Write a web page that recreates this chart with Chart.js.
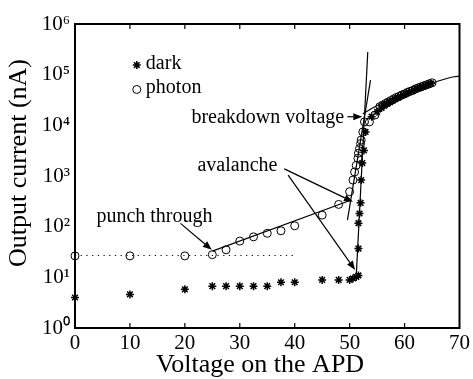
<!DOCTYPE html>
<html>
<head>
<meta charset="utf-8">
<script src="https://cdn.jsdelivr.net/npm/chart.js@4.4.1/dist/chart.umd.min.js"></script>
<style>
html,body{margin:0;padding:0;background:#fff;}
#wrap{width:473px;height:379px;position:relative;}
</style>
</head>
<body>
<div id="wrap"><canvas id="c" width="473" height="379"></canvas></div>
<script>
// ---- data ----
const xTicks = [0, 10, 20, 30, 40, 50, 60, 70];
const yTickExps = [0, 1, 2, 3, 4, 5, 6];
const supDigits = ['⁰','¹','²','³','⁴','⁵','⁶'];

const darkVolt = [0, 10, 20, 25, 27.5, 30, 32.5, 35, 37.5, 40, 45, 48, 50, 50.6, 51.2, 51.6, 51.6, 51.6, 51.8, 52.0, 52.1, 52.3, 52.6, 52.9, 54.0, 55.0,
  55.8, 56.3, 56.8, 57.3, 57.8, 58.3, 58.8, 59.3, 59.8, 60.3, 60.8, 61.3, 61.8, 62.3, 62.8, 63.3, 63.8, 64.3, 64.8];
const darkCur = [4.0, 4.6, 5.8, 6.7, 6.7, 6.7, 6.7, 6.7, 8.0, 8.0, 8.9, 8.9, 8.9, 9.5, 10.2, 10.9, 37, 117, 182, 295, 830, 1800, 3200, 7400, 14800, 18500,
  22000, 24500, 26500, 28500, 30500, 33000, 35500, 37500, 40000, 42500, 45000, 47500, 50000, 53000, 55500, 58500, 61000, 64000, 67000];

const photonVolt = [0, 10, 20, 25, 27.5, 30, 32.5, 35, 37.5, 40, 45, 48, 50, 50.6, 50.9, 51.2, 51.5, 51.6, 51.8, 52.0, 52.1, 52.4, 52.7, 53.6, 54.6,
  55.5, 56, 56.5, 57, 57.5, 58, 58.5, 59, 59.5, 60, 60.5, 61, 61.5, 62, 62.5, 63, 63.5, 64, 64.5, 65];
const photonCur = [26.5, 26.5, 26.5, 28, 35, 52, 63, 74, 83, 104, 169, 275, 490, 830, 1200, 1620, 2240, 2820, 3470, 4370, 5130, 7400, 11700, 11700, 16000,
  23400, 25100, 26900, 28800, 30900, 33100, 35500, 37200, 39800, 41700, 44700, 46800, 49000, 52500, 55000, 57500, 60300, 63100, 66100, 69200];

// fitted / guide lines
const punchVolt = [25, 50.2];
const punchCur = [33, 333];
const photonAvVolt = [49.6, 53.8];
const photonAvCur = [135, 78000];
const darkAvVolt = [51.2, 53.3];
const darkAvCur = [10.5, 280000];
const satVolt = [52.4, 54, 56, 58, 60, 62, 64, 66, 68, 69, 70];
const satCur = [17000, 21400, 28000, 35500, 43500, 52500, 62000, 74000, 86000, 91000, 93000];
const dotVolt = [0, 40];
const dotCur = [27, 27];

// annotations (data coordinates)
const annText = ['punch through', 'avalanche', 'breakdown voltage'];
const annTextX = [3.9, 22.3, 21.2];
const annTextY = [125, 1230, 10900];
const arrowFromX = [19.2, 38.1, 38.8, 49.6];
const arrowFromY = [116, 1380, 1040, 14800];
const arrowToX = [24.9, 50.6, 51.0, 52.3];
const arrowToY = [35, 310, 14, 14800];

const legendLabels = ['dark', 'photon'];
const legendX = 11.25;
const legendY = [155000, 51000];
const legendTextX = 12.9;
const legendTextY = [132000, 43700];

const FONT = '"Liberation Serif", "Times New Roman", serif';

function pts(xs, ys){ return xs.map((x,i)=>({x:x, y:ys[i]})); }

const lineDs = (xs, ys, extra) => Object.assign({
  data: pts(xs, ys), showLine: true, pointRadius: 0, borderColor: '#000', borderWidth: 1.2,
  backgroundColor: 'transparent', fill: false, tension: 0
}, extra || {});

const decor = {
  id: 'decor',
  afterDatasetsDraw(chart){
    const ctx = chart.ctx, xs = chart.scales.x, ys = chart.scales.y, a = chart.chartArea;
    ctx.save();
    // frame
    ctx.strokeStyle = '#000';
    ctx.lineWidth = 2;
    ctx.strokeRect(a.left, a.top, a.right - a.left, a.bottom - a.top);
    // inward ticks on x
    ctx.lineWidth = 1.2;
    xTicks.forEach(v => {
      const px = xs.getPixelForValue(v);
      if (px <= a.left + 1 || px >= a.right - 1) return;
      ctx.beginPath();
      ctx.moveTo(px, a.top); ctx.lineTo(px, a.top + 5);
      ctx.moveTo(px, a.bottom); ctx.lineTo(px, a.bottom - 5);
      ctx.stroke();
    });
    // arrows
    ctx.lineWidth = 1.2;
    ctx.fillStyle = '#000';
    for (let i = 0; i < arrowFromX.length; i++){
      const x1 = xs.getPixelForValue(arrowFromX[i]), y1 = ys.getPixelForValue(arrowFromY[i]);
      const x2 = xs.getPixelForValue(arrowToX[i]), y2 = ys.getPixelForValue(arrowToY[i]);
      const ang = Math.atan2(y2 - y1, x2 - x1);
      const L = 9, W = 3.5;
      const bx = x2 - L*Math.cos(ang), by = y2 - L*Math.sin(ang);
      ctx.beginPath(); ctx.moveTo(x1, y1); ctx.lineTo(bx, by); ctx.stroke();
      ctx.beginPath();
      ctx.moveTo(x2, y2);
      ctx.lineTo(bx + W*Math.sin(ang), by - W*Math.cos(ang));
      ctx.lineTo(bx - W*Math.sin(ang), by + W*Math.cos(ang));
      ctx.closePath(); ctx.fill();
    }
    // annotation text
    ctx.font = '20px ' + FONT;
    ctx.textBaseline = 'alphabetic';
    ctx.textAlign = 'left';
    annText.forEach((t, i) => {
      ctx.fillText(t, xs.getPixelForValue(annTextX[i]), ys.getPixelForValue(annTextY[i]));
    });
    // legend
    const styles = [
      {pointStyle: 'star', radius: 4, borderWidth: 1.5},
      {pointStyle: 'circle', radius: 4, borderWidth: 1}
    ];
    legendLabels.forEach((t, i) => {
      const px = xs.getPixelForValue(legendX), py = ys.getPixelForValue(legendY[i]);
      ctx.strokeStyle = '#000'; ctx.fillStyle = 'rgba(0,0,0,0)';
      ctx.lineWidth = styles[i].borderWidth;
      Chart.helpers.drawPoint(ctx, {pointStyle: styles[i].pointStyle, radius: styles[i].radius, rotation: 0, borderWidth: styles[i].borderWidth}, px, py);
      ctx.fillStyle = '#000';
      ctx.fillText(t, xs.getPixelForValue(legendTextX), ys.getPixelForValue(legendTextY[i]));
    });
    // axis titles
    ctx.font = '26px ' + FONT;
    ctx.textAlign = 'center';
    ctx.textBaseline = 'middle';
    ctx.fillText('Voltage on the APD', 260, 365);
    ctx.translate(19, 163);
    ctx.rotate(-Math.PI/2);
    ctx.fillText('Output current (nA)', 0, 0);
    ctx.restore();
  }
};

new Chart(document.getElementById('c'), {
  type: 'scatter',
  data: {
    datasets: [
      lineDs(dotVolt, dotCur, {borderDash: [1.2, 4.5], borderWidth: 1}),
      lineDs(punchVolt, punchCur),
      lineDs(photonAvVolt, photonAvCur),
      lineDs(darkAvVolt, darkAvCur),
      lineDs(satVolt, satCur, {tension: 0.4, cubicInterpolationMode: 'monotone'}),
      { label: 'dark', data: pts(darkVolt, darkCur), pointStyle: 'star', pointRadius: 4, borderWidth: 1.5,
        borderColor: '#000', backgroundColor: '#000' },
      { label: 'photon', data: pts(photonVolt, photonCur), pointStyle: 'circle', pointRadius: 4, borderWidth: 1,
        borderColor: '#000', backgroundColor: 'rgba(0,0,0,0)' }
    ]
  },
  options: {
    responsive: false,
    animation: false,
    events: [],
    clip: false,
    layout: { padding: { top: 24, right: 11, left: 0, bottom: 0 } },
    plugins: { legend: { display: false }, tooltip: { enabled: false } },
    scales: {
      x: {
        type: 'linear', min: 0, max: 70,
        afterBuildTicks: s => { s.ticks = xTicks.map(v => ({value: v})); },
        afterFit: s => { s.height = 51; },
        grid: { display: false, drawTicks: false },
        border: { display: false },
        ticks: { color: '#000', padding: 3, font: { family: FONT, size: 21 }, maxRotation: 0, autoSkip: false }
      },
      y: {
        type: 'logarithmic', min: 1, max: 1e6,
        afterBuildTicks: s => { s.ticks = yTickExps.map(e => ({value: Math.pow(10, e)})); },
        afterFit: s => { s.width = 75; },
        grid: { display: false, drawTicks: false },
        border: { display: false },
        ticks: { color: '#000', padding: 5, font: { family: FONT, size: 21 }, autoSkip: false,
          callback: (v) => { const e = Math.round(Math.log10(v)); return '10' + supDigits[e]; } }
      }
    }
  },
  plugins: [decor]
});
</script>
</body>
</html>
